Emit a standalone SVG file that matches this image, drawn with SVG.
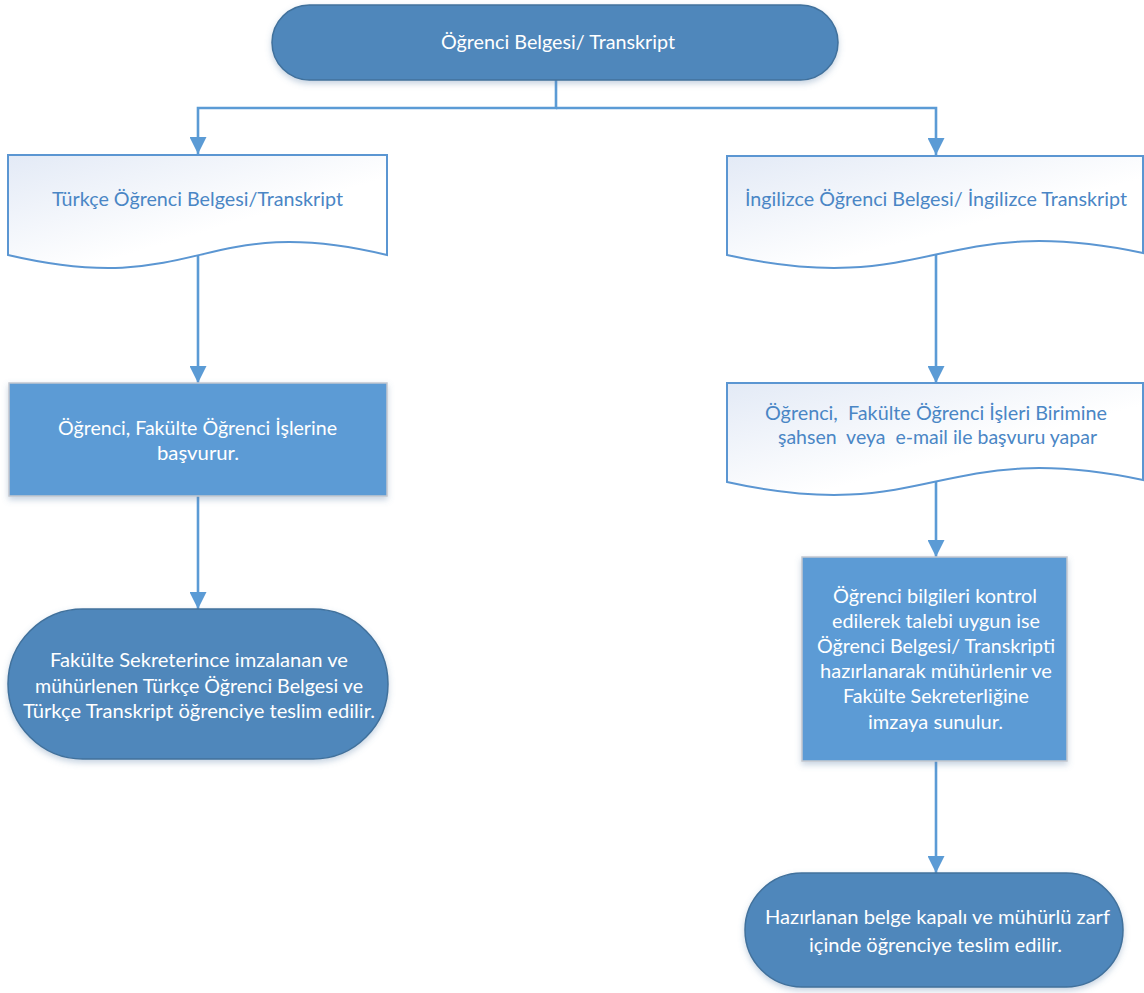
<svg xmlns="http://www.w3.org/2000/svg" width="1144" height="993" viewBox="0 0 1144 993">
  <style>
    .term { fill: #4f87bb; stroke: #41719c; stroke-width: 1.5; }
    .proc { fill: #5b9bd5; stroke: #c3c8cf; stroke-width: 1.5; }
    .doc { fill: url(#docFill); stroke: #5b96d2; stroke-width: 2; }
    .wtxt { font-family: Lato, "Open Sans", "Liberation Sans", sans-serif; font-size: 20px; fill: #ffffff; text-anchor: middle; }
    .btxt { font-family: Lato, "Open Sans", "Liberation Sans", sans-serif; font-size: 20px; fill: #4a86c5; text-anchor: middle; }
    .conn { fill: none; stroke: #5b9bd5; stroke-width: 2.6; }
  </style>
  <defs>
    <linearGradient id="docFill" x1="0" y1="0" x2="1" y2="1">
      <stop offset="0" stop-color="#e3eaf6"/>
      <stop offset="0.6" stop-color="#ffffff"/>
    </linearGradient>
    <filter id="shadow" x="-10%" y="-10%" width="120%" height="130%">
      <feDropShadow dx="0" dy="3" stdDeviation="3" flood-color="#5a7fa8" flood-opacity="0.35"/>
    </filter>
    <marker id="arrow" markerUnits="userSpaceOnUse" markerWidth="17" markerHeight="17" viewBox="0 0 17 17" refX="17" refY="8.5" orient="auto">
      <path d="M0,0 L17,8.5 L0,17 Z" fill="#5b9bd5"/>
    </marker>
  </defs>

  <!-- connectors -->
  <g id="connectors">
    <path class="conn" d="M556,80 V108 H198 V154" marker-end="url(#arrow)"/>
    <path class="conn" d="M556,108 H936 V155" marker-end="url(#arrow)"/>
    <path class="conn" d="M198,254 V383" marker-end="url(#arrow)"/>
    <path class="conn" d="M198,496 V609" marker-end="url(#arrow)"/>
    <path class="conn" d="M936,253 V383" marker-end="url(#arrow)"/>
    <path class="conn" d="M936,481 V557" marker-end="url(#arrow)"/>
    <path class="conn" d="M936,761 V873" marker-end="url(#arrow)"/>
  </g>

  <!-- start -->
  <g id="start">
    <rect class="term" x="272" y="5" width="566" height="75" rx="37.5" filter="url(#shadow)"/>
    <text class="wtxt" x="558" y="49" textLength="234" lengthAdjust="spacingAndGlyphs">Öğrenci Belgesi/ Transkript</text>
  </g>

  <!-- left branch -->
  <g id="doc-tr">
    <path class="doc" d="M8,155 H387 V255 C200,210 200,300 8,255 Z"/>
    <text class="btxt" x="197.5" y="206" textLength="291" lengthAdjust="spacingAndGlyphs">Türkçe Öğrenci Belgesi/Transkript</text>
  </g>

  <g id="proc-tr">
    <rect class="proc" x="9" y="383" width="378" height="113" filter="url(#shadow)"/>
    <text class="wtxt" x="197.5" y="435" textLength="279" lengthAdjust="spacingAndGlyphs">Öğrenci, Fakülte Öğrenci İşlerine</text>
    <text class="wtxt" x="198" y="460" textLength="82" lengthAdjust="spacingAndGlyphs">başvurur.</text>
  </g>

  <g id="end-tr">
    <rect class="term" x="8" y="609" width="380" height="150" rx="75" filter="url(#shadow)"/>
    <text class="wtxt" x="199" y="667" textLength="298" lengthAdjust="spacingAndGlyphs">Fakülte Sekreterince imzalanan ve</text>
    <text class="wtxt" x="199" y="693" textLength="328" lengthAdjust="spacingAndGlyphs">mühürlenen Türkçe Öğrenci Belgesi ve</text>
    <text class="wtxt" x="199" y="718" textLength="352" lengthAdjust="spacingAndGlyphs">Türkçe Transkript öğrenciye teslim edilir.</text>
  </g>

  <!-- right branch -->
  <g id="doc-en">
    <path class="doc" d="M727,156 H1143 V253 C940,210 930,300 727,255 Z"/>
    <text class="btxt" x="936" y="206" textLength="382" lengthAdjust="spacingAndGlyphs">İngilizce Öğrenci Belgesi/ İngilizce Transkript</text>
  </g>

  <g id="doc-apply">
    <path class="doc" d="M727,383 H1143 V480 C940,437 930,527 727,482 Z"/>
    <text class="btxt" x="936" y="420" textLength="342" lengthAdjust="spacingAndGlyphs" xml:space="preserve">Öğrenci,  Fakülte Öğrenci İşleri Birimine</text>
    <text class="btxt" x="937.5" y="444" textLength="319" lengthAdjust="spacingAndGlyphs" xml:space="preserve">şahsen  veya  e-mail ile başvuru yapar</text>
  </g>

  <g id="proc-en">
    <rect class="proc" x="802" y="557" width="265" height="204" filter="url(#shadow)"/>
    <text class="wtxt" x="935" y="603" textLength="204" lengthAdjust="spacingAndGlyphs">Öğrenci bilgileri kontrol</text>
    <text class="wtxt" x="936" y="628" textLength="208" lengthAdjust="spacingAndGlyphs">edilerek talebi uygun ise</text>
    <text class="wtxt" x="936" y="653" textLength="238" lengthAdjust="spacingAndGlyphs">Öğrenci Belgesi/ Transkripti</text>
    <text class="wtxt" x="936" y="678" textLength="232" lengthAdjust="spacingAndGlyphs">hazırlanarak mühürlenir ve</text>
    <text class="wtxt" x="936" y="703" textLength="186" lengthAdjust="spacingAndGlyphs">Fakülte Sekreterliğine</text>
    <text class="wtxt" x="935.5" y="729" textLength="135" lengthAdjust="spacingAndGlyphs">imzaya sunulur.</text>
  </g>

  <g id="end-en">
    <rect class="term" x="745" y="873" width="378" height="114" rx="57" filter="url(#shadow)"/>
    <text class="wtxt" x="937.5" y="924" textLength="345" lengthAdjust="spacingAndGlyphs">Hazırlanan belge kapalı ve mühürlü zarf</text>
    <text class="wtxt" x="935.5" y="952" textLength="253" lengthAdjust="spacingAndGlyphs">içinde öğrenciye teslim edilir.</text>
  </g>
</svg>
